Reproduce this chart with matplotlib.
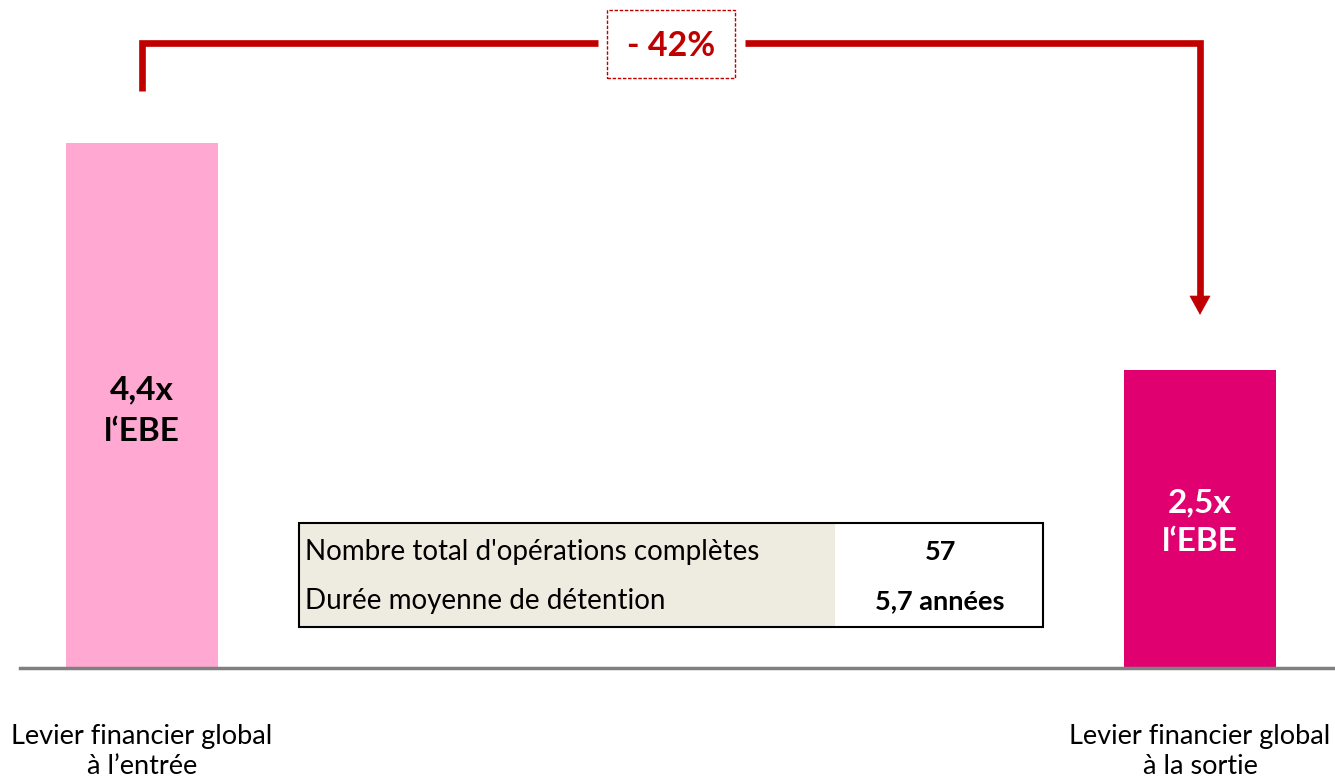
import matplotlib.pyplot as plt
import matplotlib as mpl
from matplotlib.patches import Rectangle

mpl.rcParams['font.family'] = ['Lato', 'DejaVu Sans']

categories = ['Levier financier global\nà l\u2019entrée', 'Levier financier global\nà la sortie']
values = [4.4, 2.5]
bar_labels = ['4,4x\nl\u2018EBE', '2,5x\nl\u2018EBE']
bar_colors = ['#FFA9D2', '#E1006F']
change_label = '- 42%'
table_rows = ["Nombre total d'opérations complètes", 'Durée moyenne de détention']
table_values = ['57', '5,7 années']

W, H = 1335, 783
fig = plt.figure(figsize=(W / 100, H / 100), dpi=100)
ax = fig.add_axes([0, 0, 1, 1])
ax.axis('off')

# scale: baseline at pixel 668, 4.4 -> pixel 143
unit = (668 - 143) / 4.4
ax.set_ylim(-(H - 668) / unit, 668 / unit)
step = 1058
ax.set_xlim(-142 / step, (W - 142) / step)

x = [0, 1]
ax.bar(x, values, width=152 / step, color=bar_colors, zorder=2)
ax.axhline(0, xmin=20 / W, xmax=1, color='#808080', lw=2.5, zorder=3)

for xi, v, lab in zip(x, values, bar_labels):
    ax.text(xi, v * 0.49, lab, ha='center', va='center',
            fontsize=24, fontweight='bold', color='black' if xi == 0 else 'white',
            linespacing=1.5 if xi == 0 else 1.4)

for xi, cat in zip(x, categories):
    ax.text(xi, -0.70, cat, ha='center', va='center', fontsize=19.5, linespacing=1.22)

# connector arrow
red = '#C00000'
top = values[0] + 0.84
tip = values[1] + 0.46
head = 18 / unit
gap_l, gap_r = (598 - 142) / step, (745 - 142) / step
ax.plot([x[0], x[0], gap_l], [values[0] + 0.436, top, top], color=red, lw=4.8,
        solid_capstyle='butt', solid_joinstyle='miter', zorder=4)
ax.plot([gap_r, x[1], x[1]], [top, top, tip + head * 0.9], color=red, lw=4.8,
        solid_capstyle='butt', solid_joinstyle='miter', zorder=4)
ax.annotate('', xy=(x[1], tip), xytext=(x[1], tip + head),
            arrowprops=dict(arrowstyle='-|>,head_length=0.65,head_width=0.36',
                            mutation_scale=20, color=red, lw=0.5, shrinkA=0, shrinkB=0))

def fx(px):
    return px / W

def fy(py):
    return 1 - py / H

fig.patches.append(Rectangle((fx(607), fy(78)), fx(735) - fx(607), fy(10) - fy(78),
                             transform=fig.transFigure, fill=False, ec=red,
                             lw=1.0, ls=(0, (2.5, 1.2))))
fig.text(fx(671), fy(46), change_label, ha='center', va='center', fontsize=24.5,
         fontweight='bold', color=red)

# table
fig.patches.append(Rectangle((fx(299), fy(627)), fx(835) - fx(299), fy(523) - fy(627),
                             transform=fig.transFigure, fc='#EEEBE0', ec='none'))
fig.patches.append(Rectangle((fx(299), fy(627)), fx(1043) - fx(299), fy(523) - fy(627),
                             transform=fig.transFigure, fill=False, ec='black', lw=1.5))
for i, (row, val) in enumerate(zip(table_rows, table_values)):
    yy = fy(552 + i * 49)
    fig.text(fx(305), yy, row, ha='left', va='center', fontsize=20)
    fig.text(fx(940), yy, val, ha='center', va='center', fontsize=19.5, fontweight='bold')

fig.savefig('out.png', dpi=100)
